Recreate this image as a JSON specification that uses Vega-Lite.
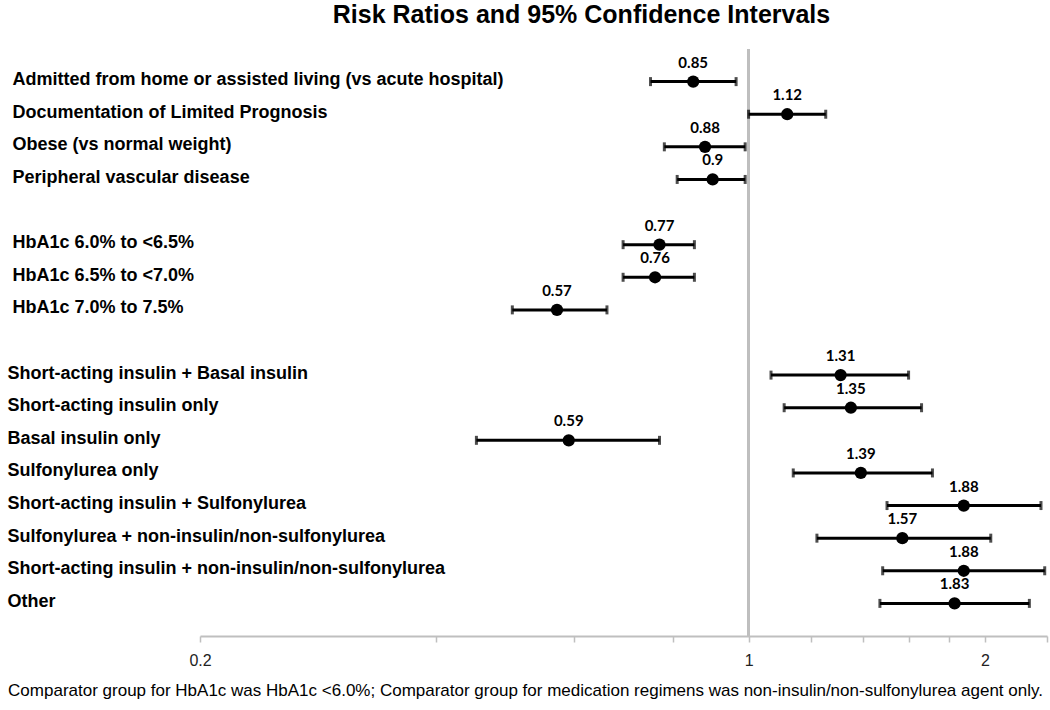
{
  "$schema": "https://vega.github.io/schema/vega-lite/v6.json",
  "width": 847,
  "height": 587,
  "autosize": "none",
  "padding": {"left": 200, "top": 49, "right": 3, "bottom": 74},
  "title": {
    "text": "Risk Ratios and 95% Confidence Intervals",
    "font": "Liberation Sans",
    "fontSize": 25,
    "fontWeight": "bold",
    "color": "black",
    "anchor": "middle",
    "baseline": "alphabetic",
    "offset": 0,
    "dx": -42
  },
  "data": {
    "values": [
      {"label": "Admitted from home or assisted living (vs acute hospital)", "rr": 0.85, "lo": 0.75, "hi": 0.964},
      {"label": "Documentation of Limited Prognosis", "rr": 1.12, "lo": 1.0, "hi": 1.254},
      {"label": "Obese (vs normal weight)", "rr": 0.88, "lo": 0.781, "hi": 0.99},
      {"label": "Peripheral vascular disease", "rr": 0.9, "lo": 0.811, "hi": 0.99},
      {"label": "HbA1c 6.0% to <6.5%", "rr": 0.77, "lo": 0.692, "hi": 0.853},
      {"label": "HbA1c 6.5% to <7.0%", "rr": 0.76, "lo": 0.692, "hi": 0.853},
      {"label": "HbA1c 7.0% to 7.5%", "rr": 0.57, "lo": 0.5, "hi": 0.66},
      {"label": "Short-acting insulin + Basal insulin", "rr": 1.31, "lo": 1.068, "hi": 1.599},
      {"label": "Short-acting insulin only", "rr": 1.35, "lo": 1.11, "hi": 1.661},
      {"label": "Basal insulin only", "rr": 0.59, "lo": 0.45, "hi": 0.77},
      {"label": "Sulfonylurea only", "rr": 1.39, "lo": 1.14, "hi": 1.715},
      {"label": "Short-acting insulin + Sulfonylurea", "rr": 1.88, "lo": 1.501, "hi": 2.358},
      {"label": "Sulfonylurea + non-insulin/non-sulfonylurea", "rr": 1.57, "lo": 1.222, "hi": 2.035},
      {"label": "Short-acting insulin + non-insulin/non-sulfonylurea", "rr": 1.88, "lo": 1.482, "hi": 2.384},
      {"label": "Other", "rr": 1.83, "lo": 1.47, "hi": 2.279}
    ]
  },
  "layer": [
    {
      "mark": {"type": "rule", "color": "#BFBFBF", "strokeWidth": 2},
      "encoding": {
        "x": {"datum": 1, "type": "quantitative", "scale": {"type": "log", "domain": [0.2, 2.4], "nice": false}}
      }
    },
    {
      "encoding": {
        "y": {
          "field": "label",
          "type": "nominal",
          "sort": null,
          "scale": {
            "type": "point",
            "padding": 1,
            "domain": [
              "Admitted from home or assisted living (vs acute hospital)",
              "Documentation of Limited Prognosis",
              "Obese (vs normal weight)",
              "Peripheral vascular disease",
              "gap1",
              "HbA1c 6.0% to <6.5%",
              "HbA1c 6.5% to <7.0%",
              "HbA1c 7.0% to 7.5%",
              "gap2",
              "Short-acting insulin + Basal insulin",
              "Short-acting insulin only",
              "Basal insulin only",
              "Sulfonylurea only",
              "Short-acting insulin + Sulfonylurea",
              "Sulfonylurea + non-insulin/non-sulfonylurea",
              "Short-acting insulin + non-insulin/non-sulfonylurea",
              "Other"
            ]
          },
          "axis": {
            "title": null,
            "domain": false,
            "ticks": false,
            "grid": false,
            "labelAlign": "left",
            "labelBaseline": "middle",
            "labelPadding": {"condition": {"test": "datum.value == 'Other' || indexof(datum.value, 'insulin') >= 0 || indexof(datum.value, 'Sulfonylurea') >= 0", "value": 193}, "value": 188},
            "labelOffset": -2,
            "labelFont": "Liberation Sans",
            "labelFontSize": 18,
            "labelFontWeight": "bold",
            "labelColor": "black",
            "labelLimit": 0,
            "labelExpr": "indexof(datum.value, 'gap') == 0 ? '' : datum.label"
          }
        }
      },
      "layer": [
        {
          "mark": {"type": "rule", "color": "black", "strokeWidth": 3},
          "encoding": {
            "x": {
              "field": "lo",
              "type": "quantitative",
              "scale": {"type": "log", "domain": [0.2, 2.4], "nice": false},
              "axis": {
                "orient": "bottom",
                "values": [0.2, 0.4, 0.6, 0.8, 1, 1.2, 1.4, 1.6, 1.8, 2, 2.4],
                "format": "~g",
                "labelExpr": "datum.value == 0.2 || datum.value == 1 || datum.value == 2 ? datum.label : ''",
                "grid": false,
                "domainColor": "#BFBFBF",
                "domainWidth": 2,
                "tickColor": "#BFBFBF",
                "tickWidth": 1.5,
                "tickSize": 6,
                "labelFont": "Liberation Sans",
                "labelFontSize": 16,
                "labelColor": "#222222",
                "labelPadding": 10,
                "labelBaseline": "top",
                "labelFlush": false,
                "labelOverlap": false,
                "title": "Comparator group for HbA1c was HbA1c <6.0%; Comparator group for medication regimens was non-insulin/non-sulfonylurea  agent only.",
                "titleFont": "Liberation Sans",
                "titleFontSize": 17,
                "titleFontWeight": "normal",
                "titleColor": "black",
                "titleX": 325,
                "titleY": 54,
                "titleAlign": "center",
                "titleBaseline": "middle"
              }
            },
            "x2": {"field": "hi"}
          }
        },
        {
          "mark": {"type": "tick", "color": "black", "thickness": 3, "size": 9, "orient": "vertical"},
          "encoding": {"x": {"field": "lo", "type": "quantitative"}}
        },
        {
          "mark": {"type": "tick", "color": "black", "thickness": 3, "size": 9, "orient": "vertical"},
          "encoding": {"x": {"field": "hi", "type": "quantitative"}}
        },
        {
          "mark": {"type": "point", "filled": true, "color": "black", "opacity": 1, "size": 150},
          "encoding": {"x": {"field": "rr", "type": "quantitative"}}
        },
        {
          "mark": {"type": "text", "color": "black", "font": "Lato", "fontSize": 15, "fontWeight": "bold", "dy": -19, "baseline": "middle"},
          "encoding": {
            "x": {"field": "rr", "type": "quantitative"},
            "text": {"field": "rr", "type": "quantitative", "format": "~g"}
          }
        }
      ]
    }
  ],
  "config": {"view": {"stroke": null}}
}
